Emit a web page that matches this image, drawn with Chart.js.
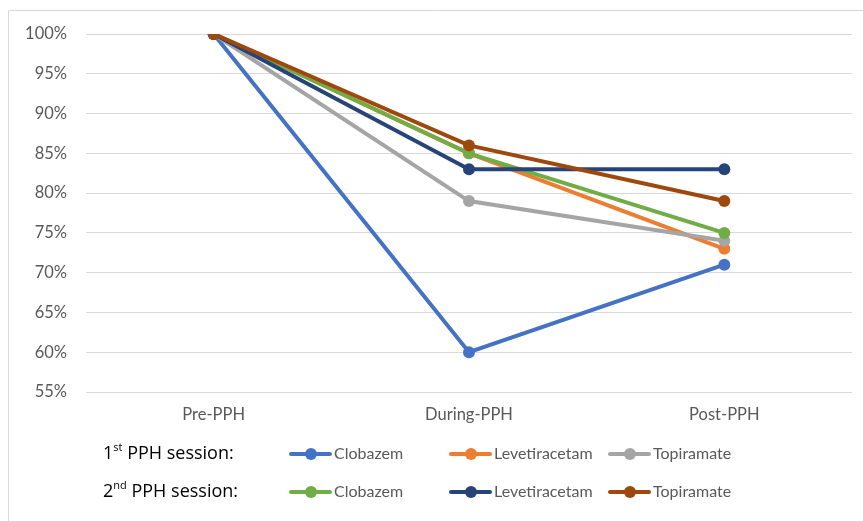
<!DOCTYPE html>
<html>
<head>
<meta charset="utf-8">
<script src="https://cdn.jsdelivr.net/npm/chart.js@4/dist/chart.umd.min.js"></script>
<style>
  html, body { margin: 0; padding: 0; background: #fff; }
  #wrap { width: 863px; height: 521px; position: relative; }
</style>
</head>
<body>
<div id="wrap"><canvas id="c" width="863" height="521"></canvas></div>
<script>
// data
const categories = ['Pre-PPH', 'During-PPH', 'Post-PPH'];
const clobazem1 = [1.00, 0.60, 0.71];
const levetiracetam1 = [1.00, 0.85, 0.73];
const topiramate1 = [1.00, 0.79, 0.74];
const clobazem2 = [1.00, 0.85, 0.75];
const levetiracetam2 = [1.00, 0.83, 0.83];
const topiramate2 = [1.00, 0.86, 0.79];
const yTicks = [0.55, 0.60, 0.65, 0.70, 0.75, 0.80, 0.85, 0.90, 0.95, 1.00];
const sessionLabels = [['1', 'st', ' PPH session:'], ['2', 'nd', ' PPH session:']];

const FONT = 'Lato, "Open Sans", sans-serif';
const TITLE_FONT = '"Open Sans", Lato, sans-serif';

function series(label, data, color, order, session) {
  return {
    label: label,
    data: data,
    borderColor: color,
    backgroundColor: color,
    borderWidth: 4,
    pointRadius: 6,
    pointHoverRadius: 6,
    pointBorderWidth: 0,
    tension: 0,
    order: order,
    session: session
  };
}

// excel-style frame + two row legend
const extras = {
  id: 'extras',
  afterDraw(chart) {
    const ctx = chart.ctx;
    ctx.save();
    ctx.strokeStyle = '#D9D9D9';
    ctx.lineWidth = 1;
    ctx.beginPath();
    ctx.moveTo(8.5, 521);
    ctx.lineTo(8.5, 10.5);
    ctx.lineTo(863, 10.5);
    ctx.stroke();

    const rowY = [454, 492];
    const itemX = [291, 451, 610];
    sessionLabels.forEach((lab, r) => {
      const y = rowY[r];
      ctx.fillStyle = '#000';
      ctx.textBaseline = 'middle';
      ctx.textAlign = 'left';
      let x = 103;
      ctx.font = '18px ' + TITLE_FONT;
      ctx.fillText(lab[0], x, y);
      x += ctx.measureText(lab[0]).width;
      ctx.font = '11px ' + TITLE_FONT;
      ctx.fillText(lab[1], x, y - 6);
      x += ctx.measureText(lab[1]).width;
      ctx.font = '18px ' + TITLE_FONT;
      ctx.fillText(lab[2], x, y);

      const ds = chart.data.datasets.filter(d => d.session === r);
      ds.forEach((d, i) => {
        const lx = itemX[i];
        ctx.strokeStyle = d.borderColor;
        ctx.lineWidth = 4;
        ctx.lineCap = 'round';
        ctx.beginPath();
        ctx.moveTo(lx, y);
        ctx.lineTo(lx + 39, y);
        ctx.stroke();
        ctx.fillStyle = d.borderColor;
        ctx.beginPath();
        ctx.arc(lx + 20, y, 6, 0, Math.PI * 2);
        ctx.fill();
        ctx.fillStyle = '#595959';
        ctx.font = '16px ' + FONT;
        ctx.fillText(d.label, lx + 43, y);
      });
    });
    ctx.restore();
  }
};

new Chart(document.getElementById('c'), {
  type: 'line',
  data: {
    labels: categories,
    datasets: [
      series('Clobazem', clobazem1, '#4472C4', 6, 0),
      series('Levetiracetam', levetiracetam1, '#ED7D31', 5, 0),
      series('Topiramate', topiramate1, '#A5A5A5', 4, 0),
      series('Clobazem', clobazem2, '#70AD47', 3, 1),
      series('Levetiracetam', levetiracetam2, '#264478', 2, 1),
      series('Topiramate', topiramate2, '#9E480E', 1, 1)
    ]
  },
  options: {
    responsive: false,
    animation: false,
    layout: { padding: { top: 34, right: 11, left: 0, bottom: 0 } },
    plugins: { legend: { display: false }, tooltip: { enabled: false } },
    scales: {
      x: {
        offset: true,
        grid: { display: false, drawTicks: false },
        border: { display: false },
        ticks: { color: '#595959', font: { family: FONT, size: 16.5 }, padding: 13 },
        afterFit(s) { s.height = 129; }
      },
      y: {
        min: 0.55,
        max: 1.0,
        afterBuildTicks(s) { s.ticks = yTicks.map(v => ({ value: v })); },
        grid: { color: '#D9D9D9', lineWidth: 1, drawTicks: false },
        border: { display: false },
        ticks: {
          color: '#595959',
          font: { family: FONT, size: 16.5 },
          padding: 19,
          callback: v => Math.round(v * 100) + '%'
        },
        afterFit(s) { s.width = 86; }
      }
    }
  },
  plugins: [extras]
});
</script>
</body>
</html>
